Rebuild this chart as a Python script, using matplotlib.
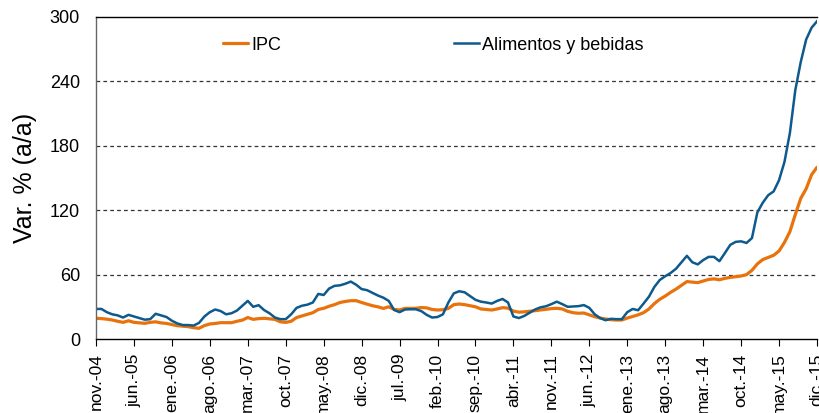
import numpy as np
import matplotlib
matplotlib.use('Agg')
import matplotlib.pyplot as plt

plt.rcParams['font.family'] = ['Liberation Sans', 'DejaVu Sans']
plt.rcParams['font.size'] = 13

# Monthly series, nov-04 .. dic-15 (134 months)
ipc = [19.3, 19, 18.5, 17.7, 16.5, 15.5, 17, 15.5, 15, 14.6,
       15.5, 16, 15, 14.5, 13.5, 12.4, 12, 11.5, 10.5, 10,
       12.5, 14, 14.5, 15.2, 15.2, 15.2, 16.5, 17.6, 20, 18.3,
       19, 19.3, 18.8, 18.3, 16, 15.5, 16.5, 20, 21.5, 23,
       24.5, 27.5, 28.6, 30.5, 32, 34, 35, 35.7, 35.7, 34,
       32.5, 31, 30, 28.5, 30, 27.6, 27, 28.5, 28.6, 28.6,
       29.3, 29, 27.5, 27, 27.3, 28.5, 32, 32.6, 32, 31,
       30, 28, 27.5, 27, 28, 29.2, 28.8, 26, 25, 25.3,
       25.8, 26.4, 27, 27.5, 28.3, 28.6, 28, 25.8, 24.5, 24,
       24.2, 22.5, 20.8, 19.5, 18.6, 18, 17.7, 17.7, 19.5, 21,
       22.5, 24.5, 28, 33, 37, 40, 43.5, 46.5, 50, 53.5,
       53, 52.5, 54, 55.5, 56, 55.2, 56.5, 57.4, 58, 58.7,
       60, 64, 70, 74, 76, 78, 82, 90, 100, 116,
       131, 140, 153, 160]

alimentos = [28, 28, 25, 23, 22, 20, 22.5, 21, 19.5, 18,
             18.5, 23.5, 22, 20.5, 17, 14.5, 13, 13, 12.5, 15,
             21, 25, 27.5, 26, 23, 24, 26.5, 31, 35.5, 30,
             31.5, 27, 24, 20, 18.5, 18.5, 23, 29, 31, 32,
             34, 42, 41, 47, 49.5, 50, 51.5, 53.5, 50.5, 46.5,
             45.5, 43, 40.5, 38.5, 35.5, 27, 25, 27.5, 27.7, 27.7,
             26, 22.5, 20, 20.5, 23, 34, 42.5, 44.5, 43.5, 40,
             36.5, 34.8, 34, 33, 35.5, 37.3, 34, 21, 19.5, 21.5,
             24.5, 27.5, 29.5, 30.5, 32.5, 34.8, 32.5, 30, 30.3, 30.6,
             31.6, 29, 23, 19.5, 17.5, 18.8, 18.5, 18.5, 25, 28,
             26.8, 33, 39.4, 48.5, 55, 58.5, 61.5, 65.5, 71.5, 77.5,
             71.5, 69.5, 73.5, 76.5, 76.5, 72.5, 80, 87.7, 90.5, 91,
             89.5, 94, 118, 127, 134, 137.5, 148, 165, 192, 232,
             258, 279, 290, 296]

tick_labels = ['nov.-04', 'jun.-05', 'ene.-06', 'ago.-06', 'mar.-07', 'oct.-07',
               'may.-08', 'dic.-08', 'jul.-09', 'feb.-10', 'sep.-10', 'abr.-11',
               'nov.-11', 'jun.-12', 'ene.-13', 'ago.-13', 'mar.-14', 'oct.-14',
               'may.-15', 'dic.-15']
y_ticks = [0, 60, 120, 180, 240, 300]

months = np.arange(len(ipc))

fig = plt.figure(figsize=(8.2, 4.13), dpi=100)
ax = fig.add_axes([96 / 820, 1 - 339 / 413, 721 / 820, 322 / 413])

ax.plot(months, ipc, color='#E8720C', lw=2.3, label='IPC', solid_capstyle='round')
ax.plot(months, alimentos, color='#0E5A8C', lw=1.8, label='Alimentos y bebidas')

ax.set_xlim(0, len(ipc) - 1)
ax.set_ylim(0, 300)
ax.set_yticks(y_ticks)
ax.set_xticks(months[::7])
ax.set_xticklabels(tick_labels, rotation=90)

for v in y_ticks[1:-1]:
    ax.axhline(v, color='#333333', lw=0.9, ls=(0, (3, 2.5)), zorder=0)

ax.spines['right'].set_visible(False)
for s in ['left', 'bottom', 'top']:
    ax.spines[s].set_linewidth(1.0)
    ax.spines[s].set_color('black')
ax.spines['left'].set_color('#666666')

ax.tick_params(axis='y', length=0, pad=11.5, labelsize=13)
ax.tick_params(axis='x', direction='out', length=5, pad=5.5, labelsize=12.5)

ax.set_ylabel('Var. % (a/a)', fontsize=18)
ax.yaxis.set_label_coords(-0.082, 0.5)

ax.legend(loc='center left', bbox_to_anchor=(0.176, 0.913), ncol=2, frameon=False,
          borderpad=0, borderaxespad=0, handlelength=1.4, handletextpad=0.15,
          columnspacing=9.6, fontsize=13)

plt.savefig('out.png', dpi=100)
